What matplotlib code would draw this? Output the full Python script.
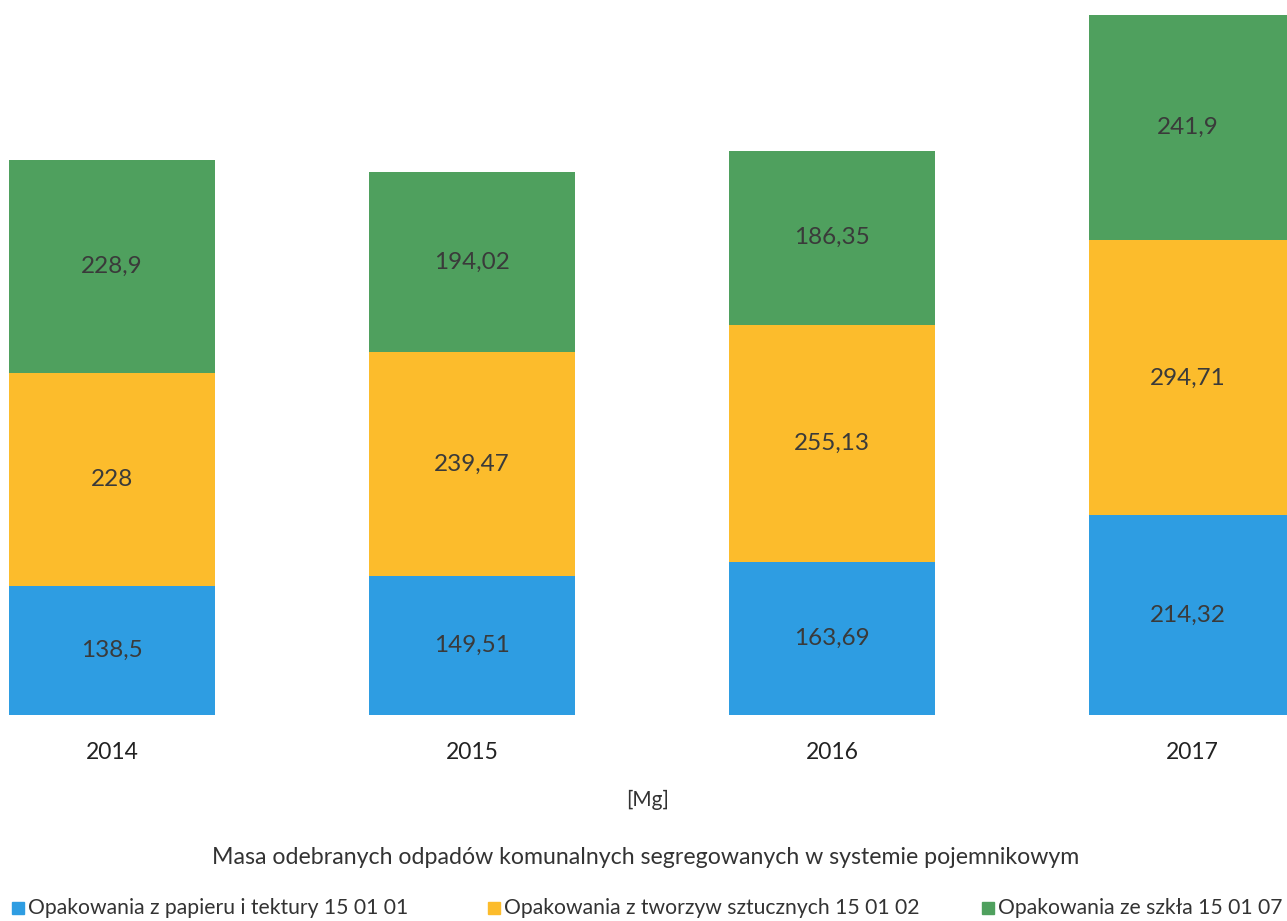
import matplotlib.pyplot as plt
from matplotlib.patches import Rectangle
from matplotlib.transforms import blended_transform_factory

plt.rcParams['font.family'] = ['Lato', 'DejaVu Sans']

# Dane
years = ['2014', '2015', '2016', '2017']
papier = [138.5, 149.51, 163.69, 214.32]
tworzywa = [228, 239.47, 255.13, 294.71]
szklo = [228.9, 194.02, 186.35, 241.9]

labels_papier = ['138,5', '149,51', '163,69', '214,32']
labels_tworzywa = ['228', '239,47', '255,13', '294,71']
labels_szklo = ['228,9', '194,02', '186,35', '241,9']

series = ['Opakowania z papieru i tektury 15 01 01',
          'Opakowania z tworzyw sztucznych 15 01 02',
          'Opakowania ze szkła 15 01 07']
colors = ['#2E9DE2', '#FCBC2C', '#4FA05E']

W, H = 1287, 921
fig = plt.figure(figsize=(W / 100, H / 100), dpi=100)
base_px = 715
ax = fig.add_axes([0, (H - base_px) / H, 1, base_px / H])

x = list(range(len(years)))
bottom2 = papier
bottom3 = [a + b for a, b in zip(papier, tworzywa)]
w = 0.57
b1 = ax.bar(x, papier, w, color=colors[0])
b2 = ax.bar(x, tworzywa, w, bottom=bottom2, color=colors[1])
b3 = ax.bar(x, szklo, w, bottom=bottom3, color=colors[2])

for bars, labs in [(b1, labels_papier), (b2, labels_tworzywa), (b3, labels_szklo)]:
    ax.bar_label(bars, labels=labs, label_type='center', fontsize=17.5, color='#3a3a3a')

ax.set_xlim(-0.311, 3.264)
ax.set_ylim(0, 767)
ax.axis('off')

# Opisy osi
tr = blended_transform_factory(ax.transData, fig.transFigure)
for i, y in enumerate(years):
    ax.text(i, 1 - 752 / H, y, transform=tr, ha='center', va='center',
            fontsize=16.5, color='#222222')

fig.text(648 / W, 1 - 800 / H, '[Mg]', ha='center', va='center', fontsize=15, color='#333333')
fig.text(646 / W, 1 - 857 / H,
         'Masa odebranych odpadów komunalnych segregowanych w systemie pojemnikowym',
         ha='center', va='center', fontsize=16.7, color='#333333')

# Legenda
leg_x = [12, 488, 982]
for lx, name, c in zip(leg_x, series, colors):
    fig.patches.append(Rectangle((lx / W, 1 - 914 / H), 12 / W, 12 / H,
                                 transform=fig.transFigure, color=c))
    fig.text((lx + 16) / W, 1 - 908 / H, name, ha='left', va='center',
             fontsize=15.2, color='#333333')

fig.savefig('out.png', dpi=100)
